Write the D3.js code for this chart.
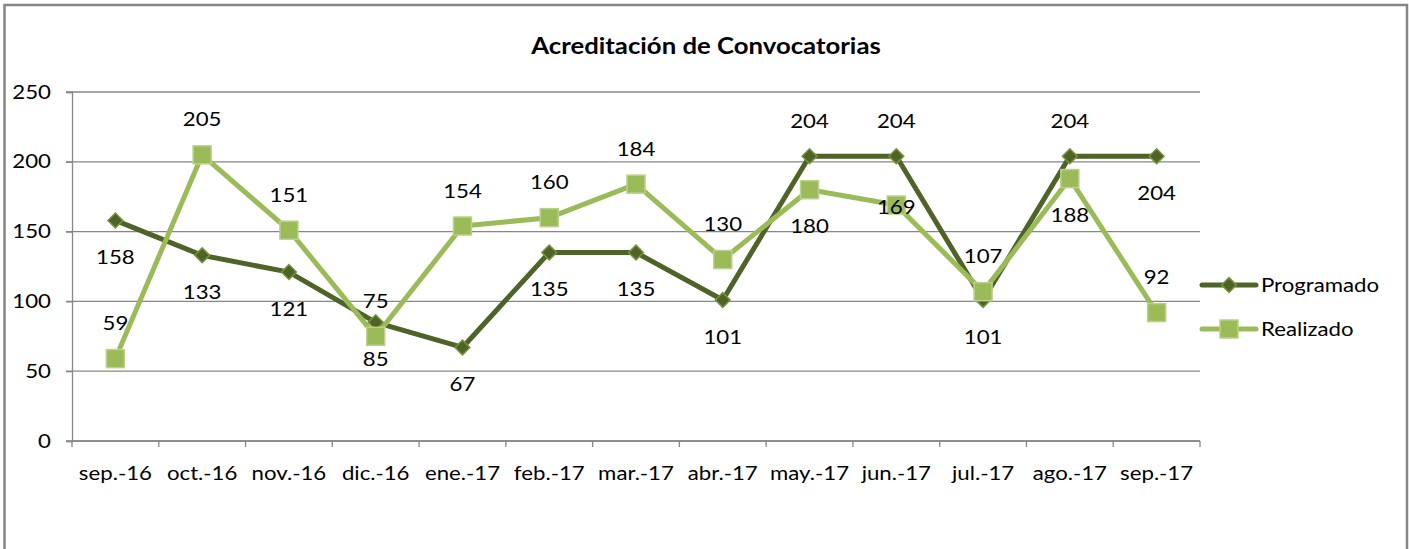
<!DOCTYPE html>
<html>
<head>
<meta charset="utf-8">
<script src="https://cdn.jsdelivr.net/npm/d3@7"></script>
<style>
  body { margin: 0; background: #fff; }
  text { font-family: Lato, "Open Sans", sans-serif; fill: #000; }
</style>
</head>
<body>
<div id="viz-container"></div>
<script>
// Chart data
let months = ['sep.-16', 'oct.-16', 'nov.-16', 'dic.-16', 'ene.-17', 'feb.-17', 'mar.-17',
              'abr.-17', 'may.-17', 'jun.-17', 'jul.-17', 'ago.-17', 'sep.-17'];
let programado = [158, 133, 121, 85, 67, 135, 135, 101, 204, 204, 101, 204, 204];
let realizado = [59, 205, 151, 75, 154, 160, 184, 130, 180, 169, 107, 188, 92];
let yTicks = [0, 50, 100, 150, 200, 250];

// where each data label sits relative to its marker
let progLabelPos = ['below', 'below', 'below', 'below', 'below', 'below', 'below',
                    'below', 'above', 'above', 'below', 'above', 'below'];
let realLabelPos = ['above', 'above', 'above', 'above', 'above', 'above', 'above',
                    'above', 'below', 'center', 'above', 'below', 'above'];

const W = 1409, H = 549;
const margin = {left: 72, right: 209, top: 92, bottom: 108};
const darkGreen = '#4f6228', lightGreen = '#9bbb59';
const stretch = 1.17; // the original picture is a bit wider than tall

const svg = d3.select('#viz-container').append('svg')
    .attr('width', W).attr('height', H);

// text helper, stretched horizontally like the original
function addText(parent, px, py, str, size, anchor) {
    return parent.append('text')
        .attr('transform', 'translate(' + px + ',' + py + ') scale(' + stretch + ',1)')
        .attr('text-anchor', anchor || 'middle')
        .attr('dy', '0.35em')
        .style('font-size', size + 'px')
        .text(str);
}

// outer frame
svg.append('rect')
    .attr('x', 4.5).attr('y', 5).attr('width', 1402.5).attr('height', H + 20)
    .attr('fill', 'none').attr('stroke', '#868686').attr('stroke-width', 2.5);

addText(svg, 706, 46, 'Acreditación de Convocatorias', 22, 'middle')
    .style('font-weight', 'bold');

const x = d3.scaleBand().domain(months).range([margin.left, W - margin.right]);
const y = d3.scaleLinear().domain([0, 250]).range([H - margin.bottom, margin.top]);

// gridlines
svg.append('g').selectAll('line').data(yTicks).enter().append('line')
    .attr('x1', margin.left - 6).attr('x2', W - margin.right)
    .attr('y1', d => y(d)).attr('y2', d => y(d))
    .attr('stroke', '#878787').attr('stroke-width', 1.3);

// y axis
const yAxis = svg.append('g')
    .attr('transform', 'translate(' + margin.left + ',0)')
    .call(d3.axisLeft(y).tickValues(yTicks).tickSize(6).tickFormat(''));
yAxis.select('.domain').attr('stroke', '#878787').attr('stroke-width', 1.3);
yAxis.selectAll('.tick line').attr('stroke', '#878787').attr('stroke-width', 1.3);
yTicks.forEach(t => addText(svg, 51, y(t), t, 19, 'end'));

// x axis with ticks between categories
const xAxisG = svg.append('g').attr('transform', 'translate(0,' + y(0) + ')');
xAxisG.append('line')
    .attr('x1', margin.left).attr('x2', W - margin.right)
    .attr('stroke', '#878787').attr('stroke-width', 1.3);
const boundaries = months.map(m => x(m)).concat([x(months[months.length - 1]) + x.bandwidth()]);
xAxisG.selectAll('line.tk').data(boundaries).enter().append('line')
    .attr('class', 'tk')
    .attr('x1', d => d).attr('x2', d => d).attr('y1', 0).attr('y2', 6)
    .attr('stroke', '#878787').attr('stroke-width', 1.3);
months.forEach(m => addText(xAxisG, x(m) + x.bandwidth() / 2, 32, m, 19, 'middle'));

const cx = i => x(months[i]) + x.bandwidth() / 2;
const line = d3.line().x((d, i) => cx(i)).y(d => y(d));

// Programado
svg.append('path').datum(programado)
    .attr('d', line).attr('fill', 'none')
    .attr('stroke', darkGreen).attr('stroke-width', 5).attr('stroke-linejoin', 'round');
// Realizado
svg.append('path').datum(realizado)
    .attr('d', line).attr('fill', 'none')
    .attr('stroke', lightGreen).attr('stroke-width', 5).attr('stroke-linejoin', 'round');

const diamond = d3.symbol().type(d3.symbolSquare).size(110);

svg.append('g').selectAll('path').data(programado).enter().append('path')
    .attr('d', diamond)
    .attr('transform', (d, i) => 'translate(' + cx(i) + ',' + y(d) + ') rotate(45)')
    .attr('fill', darkGreen).attr('stroke', '#77933c').attr('stroke-width', 1.5);

svg.append('g').selectAll('rect').data(realizado).enter().append('rect')
    .attr('x', (d, i) => cx(i) - 9).attr('y', d => y(d) - 9)
    .attr('width', 18).attr('height', 18)
    .attr('fill', lightGreen).attr('stroke', '#b9d18c').attr('stroke-width', 1.5);

const offset = {above: -35, below: 37, center: 2};

function drawLabels(values, pos) {
    const g = svg.append('g');
    values.forEach((d, i) => addText(g, cx(i), y(d) + offset[pos[i]], d, 19, 'middle'));
}
drawLabels(programado, progLabelPos);
drawLabels(realizado, realLabelPos);

// Legend
const legend = [
    {name: 'Programado', color: darkGreen, marker: 'diamond', y: 285},
    {name: 'Realizado', color: lightGreen, marker: 'square', y: 329}
];
legend.forEach(l => {
    svg.append('line')
        .attr('x1', 1202).attr('x2', 1256).attr('y1', l.y).attr('y2', l.y)
        .attr('stroke', l.color).attr('stroke-width', 5).attr('stroke-linecap', 'round');
    if (l.marker === 'diamond') {
        svg.append('path').attr('d', diamond)
            .attr('transform', 'translate(1229,' + l.y + ') rotate(45)')
            .attr('fill', darkGreen).attr('stroke', '#77933c').attr('stroke-width', 1.5);
    } else {
        svg.append('rect')
            .attr('x', 1220).attr('y', l.y - 9).attr('width', 18).attr('height', 18)
            .attr('fill', lightGreen).attr('stroke', '#b9d18c').attr('stroke-width', 1.5);
    }
    addText(svg, 1261, l.y, l.name, 19, 'start');
});
</script>
</body>
</html>
